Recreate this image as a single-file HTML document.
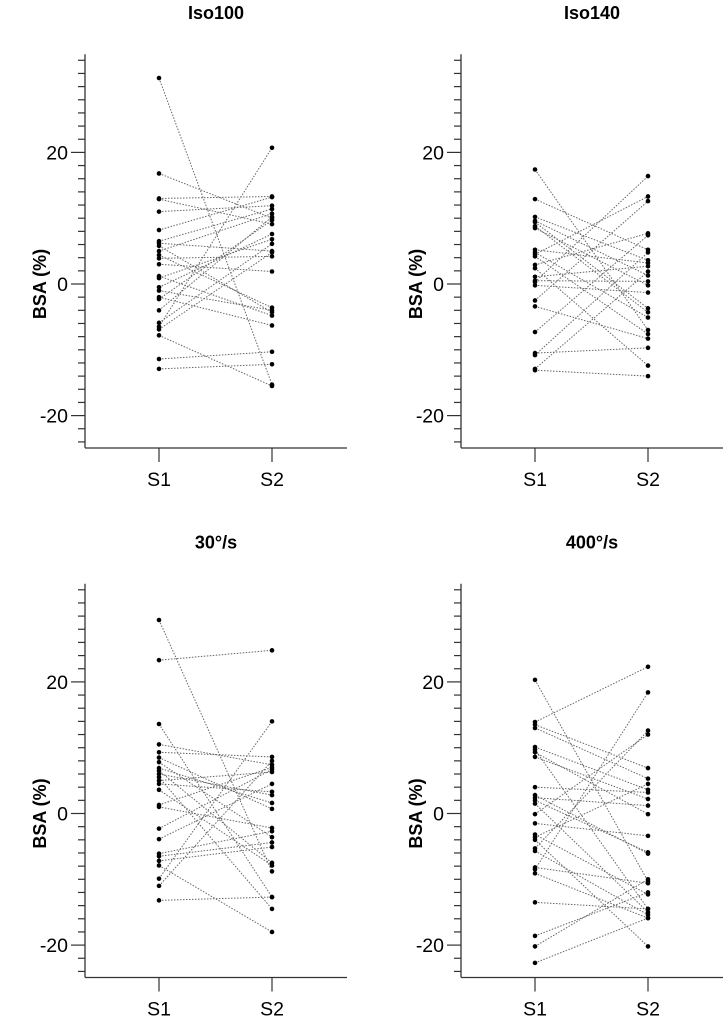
<!DOCTYPE html>
<html><head><meta charset="utf-8"><style>
html,body{margin:0;padding:0;background:#fff;}
svg{display:block;font-family:"Liberation Sans",Arial,sans-serif;}
</style></head><body>
<svg id="chart" width="726" height="1020" viewBox="0 0 726 1020"></svg>
<script>
const panelTitles = ["Iso100","Iso140","30°/s","400°/s"];
const groupLabels = ["S1","S2"];
const yTicks = [20,0,-20];
const p1S1 = [31.3,16.8,13,12.9,11,-6.5,8.2,6.2,5.8,6.5,5,4.4,3.9,1.2,0.9,-1,-0.5,-2,-2.3,-4,-5.9,-6.9,-7.8,-11.4,-12.9,3.0];
const p1S2 = [-15.3,10,13.3,9.1,11.9,20.7,13.2,5,-4.3,11.4,10.7,-3.6,4.2,-4.8,6.8,-4.0,7.6,-6.3,9.7,10.2,6.1,4.8,-15.5,-10.3,-12.2,1.9];
const p2S1 = [17.4,12.9,10.2,9.6,9.4,8.5,8.8,5.2,4.8,4.5,4.2,2.9,2.4,1.1,0.5,0.3,-0.2,-2.5,-3.4,-7.3,-10.5,-12.9,-13.1,-10.8];
const p2S2 = [-7,5.2,3.6,1.3,-3.7,-0.2,-4.3,3.2,-5.1,13.3,-7.6,7.7,-12.4,2.7,0.4,16.4,-1.3,12.6,-8.3,7.4,-9.7,1.9,-14,4.8];
const p3S1 = [29.4,23.3,13.6,10.5,9.3,8.5,7.8,6.9,6.5,6.0,5.5,5.0,4.5,3.6,1.3,1.0,-2.3,-3.9,-6.1,-6.5,-7.2,-7.9,-9.9,-11,-13.2];
const p3S2 = [-8.8,24.8,-12.7,7.4,8.6,0.7,-3.6,1.6,-7.5,2.8,-14.5,6.3,3.3,-7.9,7.0,-2.2,6.7,4.5,-2.7,-4.4,-5.1,-18,14,8.0,-12.7];
const p4S1 = [20.3,13.9,13.5,13,10.1,9.7,9.3,8.6,4,2.8,2.4,2,1.5,-0.1,-1.5,-3.2,-3.6,-4,-5.3,-5.7,-8.2,-8.5,-9.1,-13.5,-18.6,-20.2,-22.7];
const p4S2 = [-10.3,22.3,6.9,5.3,3.6,-14.5,-0.1,2.2,3.2,-6.1,1.2,-5.9,-15,12.0,-3.4,-12.3,4.5,-20.2,12.6,-15.4,-10.6,18.4,-15.9,-14.5,-12,-10,-15.9];
const panelS1 = [p1S1,p2S1,p3S1,p4S1];
const panelS2 = [p1S2,p2S2,p3S2,p4S2];

const NS="http://www.w3.org/2000/svg";
const svg=document.getElementById('chart');
function mk(tag,attrs,parent){const e=document.createElementNS(NS,tag);for(const k in attrs)e.setAttribute(k,attrs[k]);parent.appendChild(e);return e;}
const offsets=[[0,0],[376,0],[0,529.5],[376,529.5]];
const YMIN=-24,YMAX=34,PX=6.58;
offsets.forEach((o,i)=>{
  const ox=o[0],oy=o[1];
  const g=mk('g',{},svg);
  
  
  const y=v=>284+oy-v*PX;
  const xS=[159+ox,272+ox];
  const axX=85+ox;
  const t=mk('text',{x:216+ox,y:19+oy,'text-anchor':'middle','font-size':18,'font-weight':'bold',fill:'#000'},g);
  t.textContent=panelTitles[i];
  
  
  const yl=mk('text',{x:0,y:0,transform:`translate(${46+ox},${284+oy}) rotate(-90)`,'text-anchor':'middle','font-size':18,'font-weight':'bold',fill:'#000'},g);
  yl.textContent='BSA (%)';
  
  
  const ya=mk('line',{x1:axX,y1:y(YMAX)-6,x2:axX,y2:y(YMIN)+6,stroke:'#333','stroke-width':1.3},g);
  
  
  for(let v=YMIN;v<=YMAX;v+=2){
    const major=yTicks.indexOf(v)>=0;
    mk('line',{x1:axX-(major?14:7),y1:y(v),x2:axX,y2:y(v),stroke:'#333','stroke-width':1.2},g);
  }
  yTicks.forEach(v=>{
    const tl=mk('text',{x:axX-17,y:y(v)+7,'text-anchor':'end','font-size':19.5,fill:'#000'},g);
    tl.textContent=v;
    
    
  });
  const xa=mk('line',{x1:axX,y1:448+oy,x2:347+ox,y2:448+oy,stroke:'#333','stroke-width':1.3},g);
  
  
  groupLabels.forEach((lab,j)=>{
    mk('line',{x1:xS[j],y1:448+oy,x2:xS[j],y2:462+oy,stroke:'#333','stroke-width':1.2},g);
    const xl=mk('text',{x:xS[j],y:486+oy,'text-anchor':'middle','font-size':19.5,fill:'#000'},g);
    xl.textContent=lab;
    
    
  });
  const a=panelS1[i],b=panelS2[i];
  a.forEach((v,k)=>{
    const ln=mk('line',{x1:xS[0],y1:y(v),x2:xS[1],y2:y(b[k]),stroke:'#666','stroke-width':1,'stroke-dasharray':'1.5,1.5'},g);
    
    
  });
  a.forEach((v,k)=>{
    const c1=mk('circle',{cx:xS[0],cy:y(v),r:2.3,fill:'#000'},g);
    
    
    const c2=mk('circle',{cx:xS[1],cy:y(b[k]),r:2.3,fill:'#000'},g);
    
    
  });
});
</script>
</body></html>
